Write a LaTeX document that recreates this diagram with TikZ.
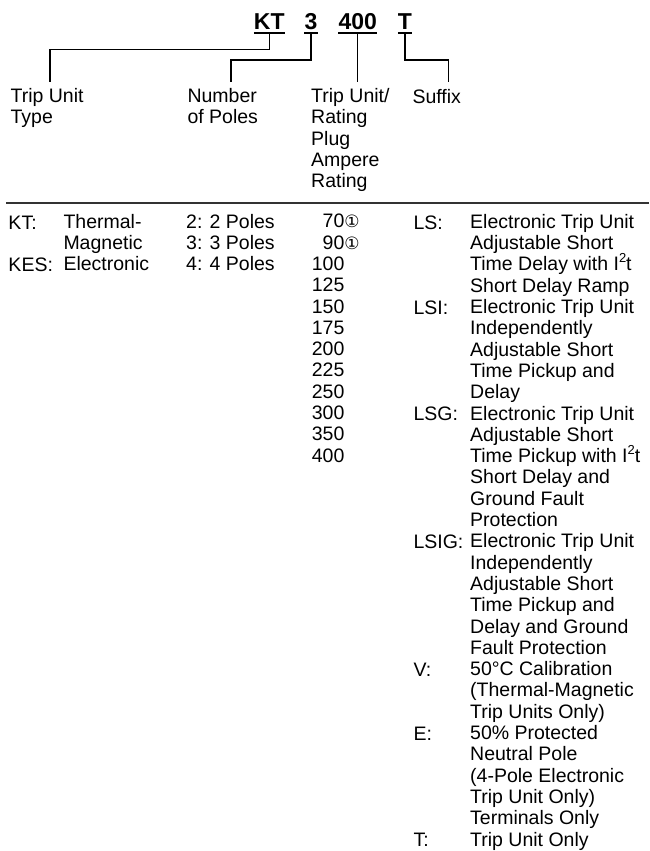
\documentclass[tikz,border=0pt]{standalone}
\usepackage{fontspec}
\setmainfont{Liberation Sans}
\newfontfamily\circfont{DejaVu Sans}
\usepackage{tikz}

\newcommand{\noteone}{{\circfont\fontsize{17}{17}\selectfont ①}}
\newcommand{\sqtwo}{\smash{\raisebox{0.42em}{\fontsize{13}{13}\selectfont 2}}}

\begin{document}
\begin{tikzpicture}
[x=1pt, y=-1pt,
 txt/.style={font=\fontsize{19.5}{21.3}\selectfont, inner sep=0pt, align=left, anchor=north west,
   execute at begin node=\strut},
 code/.style={font=\fontsize{23}{25}\selectfont\bfseries, inner sep=0pt, anchor=base},
 lead/.style={line width=1.5pt},
 uline/.style={line width=2.2pt},
 rule/.style={line width=2.4pt, black!80}]
\useasboundingbox (0,0) rectangle (649,851);

% catalog number
\node[code] (kt) at (269.3,29.3) {KT};
\node[code] (poles) at (311,29.3) {3};
\node[code] (amps) at (357.7,29.3) {400};
\node[code] (sfx) at (405,29.3) {T};

\foreach \n in {kt,poles,amps,sfx}
	\draw[uline] ([yshift=-3.6pt]\n.base west) -- ([yshift=-3.6pt]\n.base east);

% headings
\node[txt] (typehead) at (10.4,88.1) {Trip Unit\\Type};
\node[txt] (polehead) at (187.3,88.1) {Number\\of Poles};
\node[txt] (amphead) at (311,88.1) {Trip Unit/\\Rating\\Plug\\Ampere\\Rating};
\node[txt] (sfxhead) at (412.3,88.1) {Suffix};

\draw[lead] ([yshift=-3.6pt]kt.base) -- ++(0,16.4) -| ([xshift=39.6pt,yshift=6.4pt]typehead.north west);
\draw[lead] ([yshift=-3.6pt]poles.base) -- ++(0,27.1) -| ([xshift=43.7pt,yshift=6.4pt]polehead.north west);
\draw[lead] ([yshift=-3.6pt]amps.base) -- ([yshift=6.4pt]amps.base |- amphead.north);
\draw[lead] ([yshift=-3.6pt]sfx.base) -- ++(0,27.1) -| ([xshift=36pt,yshift=6.4pt]sfxhead.north west);

\draw[rule] (6,203) -- (649,203);

% table
\node[txt] (ktkey) at (8.3,214) {KT:};
\node[txt] (keskey) at (8.3,256.6) {KES:};
\node[txt] (types) at (63.3,214) {Thermal-\\Magnetic\\Electronic};
\node[txt] (polelist) at (186,214) {2: 2 Poles\\3: 3 Poles\\4: 4 Poles};
\node[txt] (amplist) at (311.7,214) {\phantom{1}70\noteone\\\phantom{1}90\noteone\\100\\125\\150\\175\\200\\225\\250\\300\\350\\400};

\foreach \k/\r in {LS:/1, LSI:/5, LSG:/10, LSIG:/16, V:/22, E:/25, T:/30}
	\node[txt] (key\r) at (413.3,{214+(\r-1)*21.3}) {\k};

\node[txt] (sfxlist) at (470,214) {Electronic Trip Unit\\Adjustable Short\\Time Delay with I\sqtwo t\\Short Delay Ramp\\
Electronic Trip Unit\\Independently\\Adjustable Short\\Time Pickup and\\Delay\\
Electronic Trip Unit\\Adjustable Short\\Time Pickup with I\sqtwo t\\Short Delay and\\Ground Fault\\Protection\\
Electronic Trip Unit\\Independently\\Adjustable Short\\Time Pickup and\\Delay and Ground\\Fault Protection\\
50°C Calibration\\(Thermal-Magnetic\\Trip Units Only)\\
50\% Protected\\Neutral Pole\\(4-Pole Electronic\\Trip Unit Only)\\Terminals Only\\
Trip Unit Only};

\end{tikzpicture}
\end{document}
